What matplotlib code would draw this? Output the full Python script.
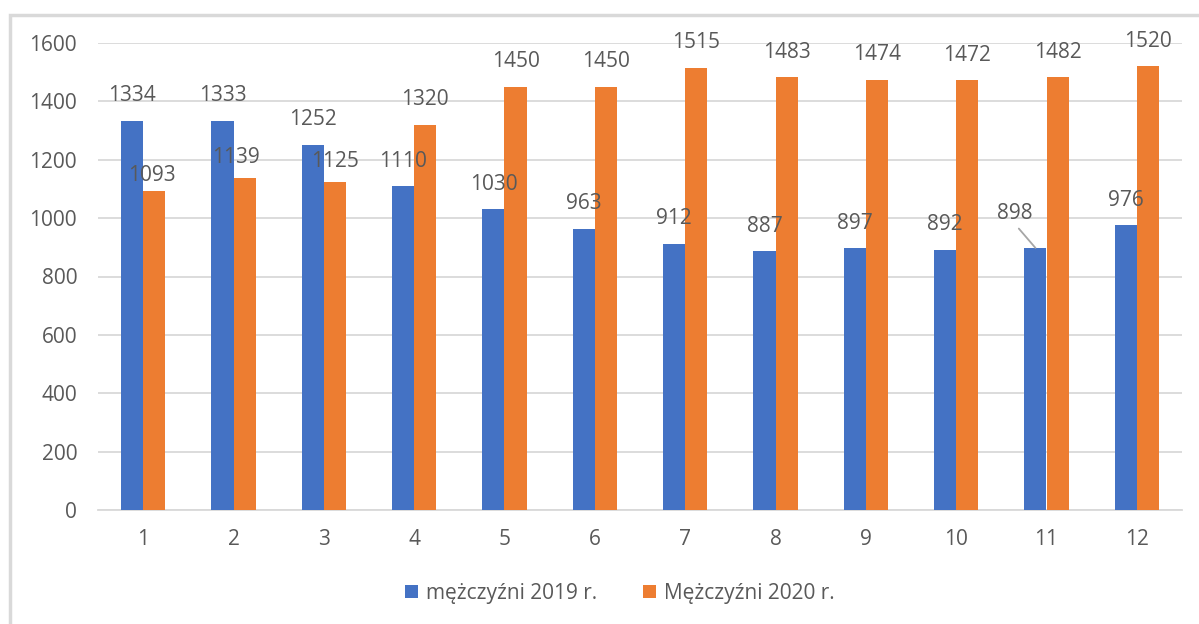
import matplotlib
matplotlib.use("Agg")
import matplotlib.pyplot as plt
import numpy as np
from matplotlib.patches import Rectangle

months = ["1", "2", "3", "4", "5", "6", "7", "8", "9", "10", "11", "12"]
men_2019 = [1334, 1333, 1252, 1110, 1030, 963, 912, 887, 897, 892, 898, 976]
men_2020 = [1093, 1139, 1125, 1320, 1450, 1450, 1515, 1483, 1474, 1472, 1482, 1520]
series_names = ["mężczyźni 2019 r.", "Mężczyźni 2020 r."]
y_ticks = [0, 200, 400, 600, 800, 1000, 1200, 1400, 1600]

BLUE = "#4472C4"
ORANGE = "#ED7D31"
TXT = "#595959"
GRID = "#d9d9d9"
FONT = "Open Sans"
FS = 15

fig = plt.figure(figsize=(11.99, 6.24), dpi=100)
fig.patch.set_facecolor("white")
# outer chart border
fig.patches.append(Rectangle((10 / 1199, -0.1), 1.2, 1 - 15 / 624 + 0.1,
                             transform=fig.transFigure, fill=False,
                             edgecolor=GRID, linewidth=2.5))

ax = fig.add_axes([98 / 1199, 1 - 510 / 624, (1182 - 98) / 1199, (510 - 43) / 624])
x = np.arange(1, len(months) + 1)
w = 0.245
b1 = ax.bar(x - w / 2, men_2019, w, color=BLUE, label=series_names[0], zorder=3)
b2 = ax.bar(x + w / 2, men_2020, w, color=ORANGE, label=series_names[1], zorder=3)

ax.set_xlim(0.5, 12.5)
ax.set_ylim(0, 1600)
ax.set_yticks(y_ticks)
ax.set_xticks(x)
ax.set_xticklabels(months)
ax.tick_params(length=0, labelsize=FS, labelcolor=TXT)
ax.tick_params(axis="x", pad=14)
ax.tick_params(axis="y", pad=15)
for lab in ax.get_xticklabels() + ax.get_yticklabels():
    lab.set_fontfamily(FONT)
ax.grid(axis="y", color=GRID, linewidth=1.3, zorder=0)
for s in ["top", "right", "left"]:
    ax.spines[s].set_visible(False)
ax.spines["bottom"].set_color(GRID)
ax.spines["bottom"].set_linewidth(1.3)

# data labels (default: centred ~18pt above bar top)
adjust_2019 = {10: (-15, 25)}
adjust_2020 = {0: (-1.5, 11.5), 1: (-6.5, 14.5), 2: (0, 14.5)}

def add_labels(bars, vals, adjust):
    for i, (bar, v) in enumerate(zip(bars, vals)):
        cx = bar.get_x() + bar.get_width() / 2
        dx, dy = adjust.get(i, (0, 18))
        kw = {}
        if i in adjust and abs(dx) > 10:
            kw["arrowprops"] = dict(arrowstyle="-", color="#a6a6a6", lw=1.3,
                                    shrinkA=2, shrinkB=0, relpos=(0.5, 0))
        ax.annotate(str(v), xy=(cx, v), xytext=(dx, dy), textcoords="offset points",
                    ha="center", va="center", fontsize=FS, color=TXT,
                    fontfamily=FONT, zorder=5, **kw)

add_labels(b1, men_2019, adjust_2019)
add_labels(b2, men_2020, adjust_2020)

leg = fig.legend(handles=[b1, b2], loc="center", bbox_to_anchor=(620 / 1199, 1 - 593 / 624),
                 ncol=2, frameon=False, handlelength=0.6, handleheight=0.6,
                 handletextpad=0.4, columnspacing=2.2, prop={"family": FONT, "size": FS})
for t in leg.get_texts():
    t.set_color(TXT)

fig.savefig("out.png", dpi=100)
